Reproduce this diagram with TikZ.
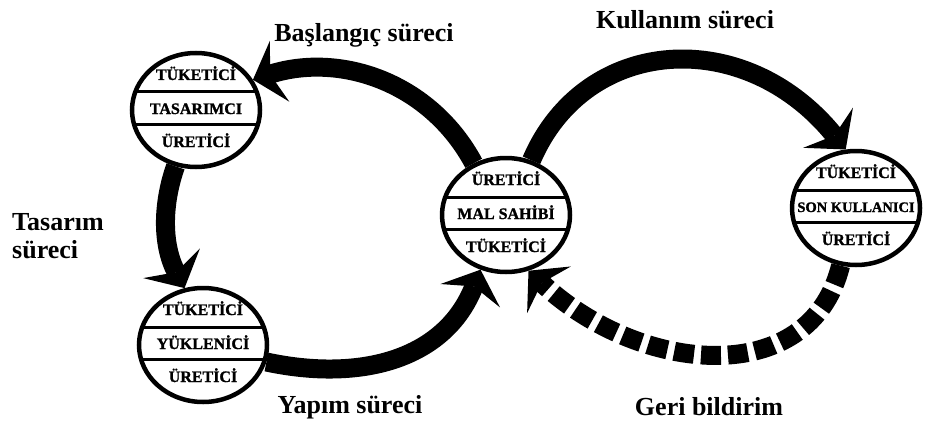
\documentclass[tikz,border=0pt]{standalone}
\usepackage{fontspec}
\setmainfont{Liberation Serif}
\newfontfamily\heavyserif{Liberation Serif}[BoldFeatures={FakeBold=1.3}]
\usetikzlibrary{arrows.meta,shapes.geometric}
\tikzset{
  roundel/.style={ellipse, draw, fill=white, line width=4.5pt, minimum width=128pt, minimum height=114pt, inner sep=0pt},
  band/.style={line width=3pt},
  roundtext/.style={font=\heavyserif\fontsize{16}{18}\selectfont\bfseries, inner sep=0pt, anchor=base},
  flow/.style={line width=19pt, -{Stealth[length=28pt,width=64pt,inset=10pt,line width=0pt]}},
  feedback/.style={flow, dash pattern=on 20pt off 7pt},
  lbl/.style={font=\fontsize{26}{28}\selectfont\bfseries, inner sep=0pt, anchor=base}
}
\newcommand\MyRoundel[5]{%
  \node[roundel] (#1) at #2 {};
  \begin{scope}
    \clip (#1.center) ellipse [x radius=64pt, y radius=57pt];
    \draw[band] (#1.center) ++(-70,-18) -- ++(140,0);
    \draw[band] (#1.center) ++(-70,14) -- ++(140,0);
  \end{scope}
  \path (#1.center) ++(0,-30) node[roundtext] (#1-a) {#3};
  \path (#1.center) ++(0,4) node[roundtext] (#1-b) {#4};
  \path (#1.center) ++(0,37) node[roundtext] (#1-c) {#5};
}
\begin{document}
\begin{tikzpicture}[x=1pt,y=-1pt]
\useasboundingbox (0,0) rectangle (925,425);
\fill[white] (0,0) rectangle (925,425);

\MyRoundel{TL}{(196,110)}{TÜKETİCİ}{TASARIMCI}{ÜRETİCİ}
\MyRoundel{BL}{(203,345)}{TÜKETİCİ}{YÜKLENİCİ}{ÜRETİCİ}
\MyRoundel{C}{(506,215)}{ÜRETİCİ}{MAL SAHİBİ}{TÜKETİCİ}
\MyRoundel{R}{(856,208)}{TÜKETİCİ}{\fontsize{14.5}{16}\selectfont SON KULLANICI}{ÜRETİCİ}

% process arrows
\draw[flow] (C.122) .. controls (430,82) and (340,52) .. (TL.28);
\draw[flow] (C.65) .. controls (585,35) and (745,25) .. (R.100);
\draw[flow] (TL.250) .. controls (162,205) and (162,245) .. (BL.108);
\draw[flow] (BL.-15) .. controls (360,382) and (445,360) .. (C.245);
\draw[feedback] (R.255) .. controls (810,390) and (640,375) .. (C.292);

% labels
\node[lbl] (l1) at (364,42) {Başlangıç süreci};
\node[lbl] (l2) at (685,29) {Kullanım süreci};
\node[lbl, anchor=base west] (l3a) at (12,230) {Tasarım};
\node[lbl, anchor=base west] (l3b) at (12,258) {süreci};
\node[lbl] (l4) at (350,413) {Yapım süreci};
\node[lbl] (l5) at (709,415) {Geri bildirim};
\end{tikzpicture}
\end{document}
